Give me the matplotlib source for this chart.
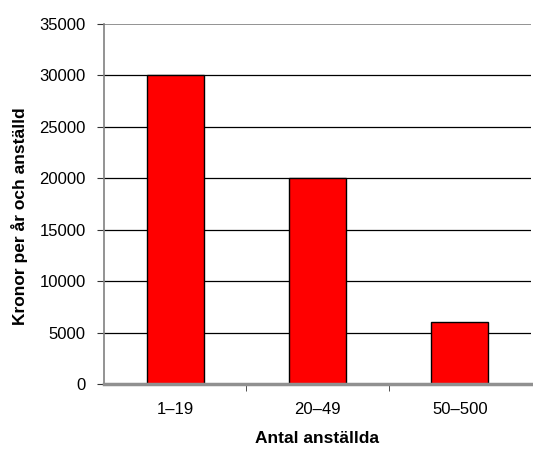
import numpy as np
import matplotlib.pyplot as plt

categories = ["1\u201319", "20\u201349", "50\u2013500"]
values = [30000, 20000, 6000]
yticks = [0, 5000, 10000, 15000, 20000, 25000, 30000, 35000]

plt.rcParams['font.family'] = ['Liberation Sans', 'DejaVu Sans']

fig = plt.figure(figsize=(5.33, 4.5), dpi=100)
ax = fig.add_axes([0.195, 0.1467, 0.801, 0.80])

x = np.arange(len(categories))
ax.bar(x, values, width=0.4, color="#ff0000", edgecolor="black", linewidth=1, zorder=3)

ax.set_xlim(-0.5, len(categories) - 0.5)
ax.set_ylim(0, 35000)
ax.set_yticks(yticks)
ax.set_yticklabels([str(t) for t in yticks], fontsize=12)
for t in yticks[1:-1]:
    ax.axhline(t, color="black", linewidth=0.9, zorder=1)
ax.axhline(35000, color="#808080", linewidth=1.2, zorder=1)

ax.set_xticks(x)
ax.set_xticklabels(categories, fontsize=12)
ax.tick_params(axis="x", length=0, pad=13)
ax.set_xticks(x[:-1] + 0.5, minor=True)
ax.tick_params(axis="x", which="minor", length=5, direction="out", color="#333333")
ax.tick_params(axis="y", length=5, direction="out", color="#333333", pad=8)

for s in ["top", "right"]:
    ax.spines[s].set_visible(False)
ax.spines["left"].set_color("#808080")
ax.spines["left"].set_linewidth(1.2)
ax.spines["bottom"].set_color("#909090")
ax.spines["bottom"].set_linewidth(2.5)
ax.spines["bottom"].set_zorder(4)

ax.set_xlabel("Antal anställda", fontsize=12.5, fontweight="bold", labelpad=10)
ax.set_ylabel("Kronor per år och anställd", fontsize=12.5, fontweight="bold")
ax.yaxis.set_label_coords(-0.178, 0.467)

fig.savefig("out.png", dpi=100)
